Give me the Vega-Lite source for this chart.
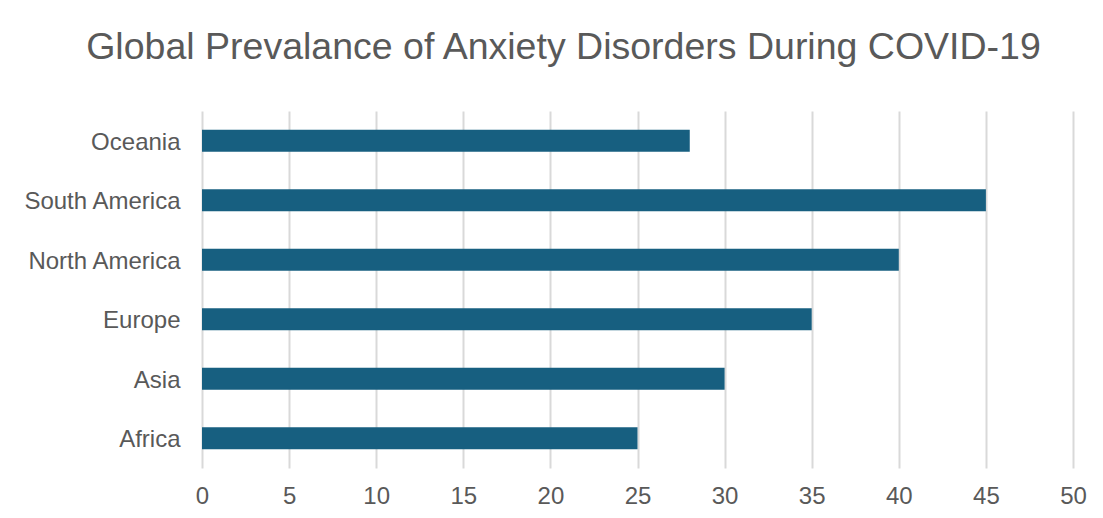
{
  "$schema": "https://vega.github.io/schema/vega-lite/v6.json",
  "autosize": "none",
  "width": 871,
  "height": 357,
  "padding": {"left": 202, "top": 111, "right": 30, "bottom": 50},
  "background": "white",
  "title": {
    "text": "Global Prevalance of Anxiety Disorders During COVID-19",
    "anchor": "middle",
    "frame": "group",
    "dx": -74,
    "baseline": "alphabetic",
    "offset": 15,
    "fontSize": 37.5,
    "fontWeight": "normal",
    "color": "#595959"
  },
  "data": {
    "values": [
      {"Region": "Oceania", "Prevalence": 28},
      {"Region": "South America", "Prevalence": 45},
      {"Region": "North America", "Prevalence": 40},
      {"Region": "Europe", "Prevalence": 35},
      {"Region": "Asia", "Prevalence": 30},
      {"Region": "Africa", "Prevalence": 25}
    ]
  },
  "mark": {"type": "bar", "color": "#175f80"},
  "encoding": {
    "y": {
      "field": "Region",
      "type": "nominal",
      "sort": ["Oceania", "South America", "North America", "Europe", "Asia", "Africa"],
      "title": null,
      "scale": {"paddingInner": 0.63, "paddingOuter": 0.315},
      "axis": {"domain": false, "ticks": false, "grid": false, "labelPadding": 22, "labelBaseline": "middle", "labelOffset": 2}
    },
    "x": {
      "field": "Prevalence",
      "type": "quantitative",
      "title": null,
      "scale": {"domain": [0, 50], "nice": false},
      "axis": {"values": [0, 5, 10, 15, 20, 25, 30, 35, 40, 45, 50], "domain": false, "ticks": false, "grid": true, "labelFlush": false, "labelPadding": 16}
    }
  },
  "config": {
    "font": "Liberation Sans",
    "view": {"stroke": null},
    "axis": {
      "labelFont": "Liberation Sans",
      "labelFontSize": 24,
      "labelColor": "#595959",
      "gridColor": "#d9d9d9",
      "gridWidth": 2
    },
    "title": {"font": "Liberation Sans"}
  }
}
